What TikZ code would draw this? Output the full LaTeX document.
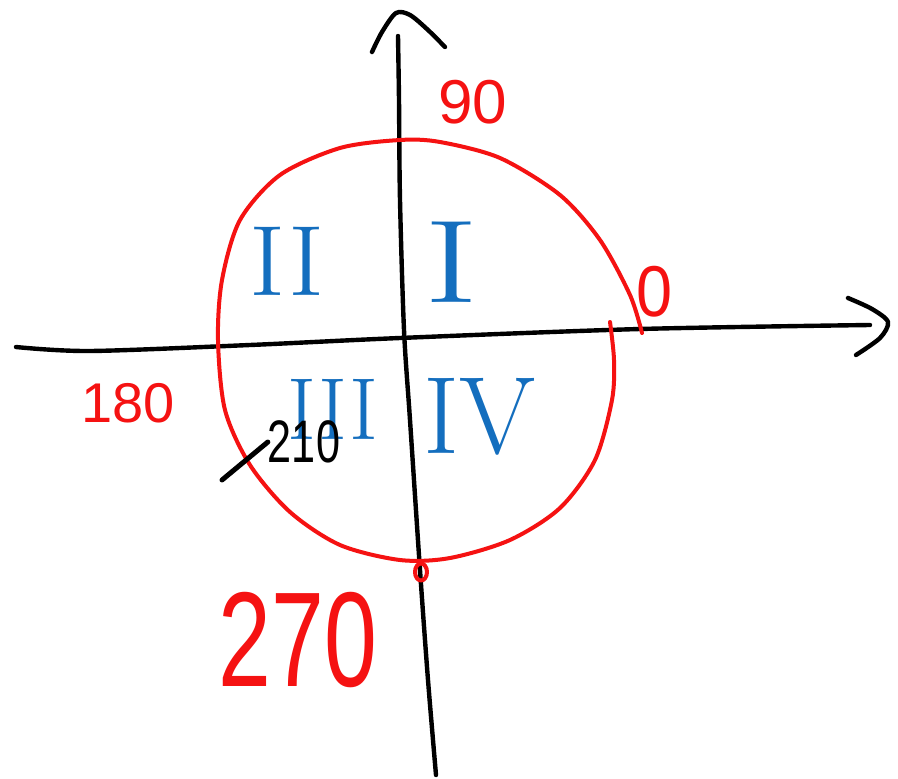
\documentclass[tikz,border=0pt]{standalone}
\usepackage{fontspec}
\usetikzlibrary{shapes.geometric}
\newfontfamily\hand{Liberation Sans}
\begin{document}
\begin{tikzpicture}[x=1pt,y=-1pt,line cap=round,line join=round]
\definecolor{penred}{RGB}{245,18,18}
\definecolor{penblue}{RGB}{20,110,190}
\tikzset{
  axis/.style={black,line width=4.4pt},
  ring/.style={penred,line width=4pt},
  redlab/.style={penred,inner sep=0pt,font=\hand\fontsize{#1}{#1}\selectfont},
  romanlab/.style={penblue,inner sep=0pt,font=\fontsize{#1}{#1}\selectfont},
  blacklab/.style={black,inner sep=0pt,font=\hand\fontsize{#1}{#1}\selectfont},
}
\useasboundingbox[fill=white] (0,0) rectangle (898,779);
% axes
\draw[axis] plot[smooth] coordinates {(436,775) (428,680) (420,570) (410,420) (404,330) (400,200) (399,100) (398,36)};
\draw[axis] plot[smooth] coordinates {(372,52) (382,32) (396,13) (410,15) (428,30) (445,47)};
\draw[axis] plot[smooth] coordinates {(16,347) (90,351) (250,345) (400,338) (640,329) (870,325)};
\draw[axis] plot[smooth] coordinates {(848,298) (872,309) (888,322) (880,338) (856,355)};
% red circle
\draw[ring] plot[smooth] coordinates {(642,333) (630,295) (600,240) (560,195) (500,158) (440,142) (400,140) (340,148) (280,175) (240,220) (222,280) (218,340) (225,410) (250,465) (290,512) (340,545) (400,560) (450,558) (510,540) (560,508) (595,460) (612,400) (614,360) (610,322)};
\node[draw=penred,line width=4pt,ellipse,minimum width=12pt,minimum height=17pt,inner sep=0pt] (pt270) at (421,572) {};
% red labels
\node[redlab=62] (l90) at (473,102) {90};
\node[redlab=56] (l180) at (128,403) {180};
\node[redlab=100,xscale=0.95,yscale=1.35] (l270) at (298,640) {270};
\node[redlab=72,xscale=0.9] (l0) at (655,292) {0};
% blue quadrant numerals
\node[romanlab=100,xscale=1.1] (q2) at (287,261) {II};
\node[romanlab=118,xscale=1.4] (q1) at (452,262) {I};
\node[romanlab=88] (q3) at (333,409) {III};
\node[romanlab=110] (q4) at (480,417) {IV};
% 210 with pointer
\node[blacklab=60,xscale=0.72] (l210) at (304,442) {210};
\coordinate (tail) at (222,480);
\draw[black,line width=5pt] (tail) -- (l210.west);
\end{tikzpicture}
\end{document}
